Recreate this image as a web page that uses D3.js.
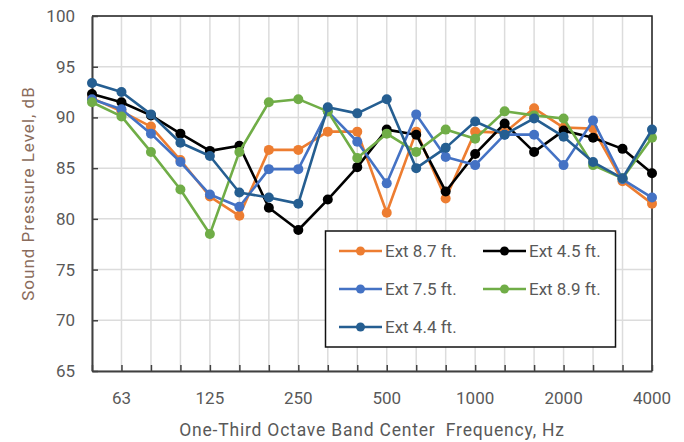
<!DOCTYPE html>
<html>
<head>
<meta charset="utf-8">
<script src="https://cdn.jsdelivr.net/npm/d3@7"></script>
<style>
	body { margin: 0; background: #fff; }
	svg text { font-family: Roboto, "Open Sans", sans-serif; }
</style>
</head>
<body>
<svg id="chart" width="684" height="442"></svg>
<script>
	"use strict";

	/***** Data *****/
	// One-third octave band centre frequencies, Hz
	var bands = [50, 63, 80, 100, 125, 160, 200, 250, 315, 400, 500, 630, 800, 1000, 1250, 1600, 2000, 2500, 3150, 4000];
	var bandLabels = [63, 125, 250, 500, 1000, 2000, 4000];
	var yTicks = [65, 70, 75, 80, 85, 90, 95, 100];

	var ext87 = [91.9, 90.6, 89.1, 85.8, 82.2, 80.3, 86.8, 86.8, 88.6, 88.6, 80.6, 88.6, 82.0, 88.6, 88.5, 90.9, 89.0, 88.9, 83.7, 81.5];
	var ext45 = [92.3, 91.5, 90.2, 88.4, 86.7, 87.2, 81.1, 78.9, 81.9, 85.1, 88.8, 88.3, 82.7, 86.4, 89.4, 86.6, 88.7, 88.0, 86.9, 84.5];
	var ext75 = [91.8, 90.8, 88.4, 85.6, 82.4, 81.2, 84.9, 84.9, 90.6, 87.6, 83.5, 90.3, 86.1, 85.3, 88.3, 88.3, 85.3, 89.7, 83.9, 82.1];
	var ext89 = [91.5, 90.1, 86.6, 82.9, 78.5, 86.6, 91.5, 91.8, 90.6, 86.0, 88.4, 86.6, 88.8, 87.9, 90.6, 90.2, 89.9, 85.3, 84.0, 88.0];
	var ext44 = [93.4, 92.5, 90.3, 87.5, 86.2, 82.6, 82.1, 81.5, 91.0, 90.4, 91.8, 85.0, 87.0, 89.6, 88.3, 89.9, 88.1, 85.6, 84.0, 88.8];

	var seriesNames = ["Ext 8.7 ft.", "Ext 4.5 ft.", "Ext 7.5 ft.", "Ext 8.9 ft.", "Ext 4.4 ft."];
	var seriesValues = [ext87, ext45, ext75, ext89, ext44];
	var seriesColors = ["#ed7d31", "#000000", "#4472c4", "#70ad47", "#255e91"];

	/***** Layout *****/
	const plotLeft = 92, plotRight = 652, plotTop = 16, plotBottom = 371;
	const textColor = "#595959";

	var svg = d3.select("#chart");

	var x = d3.scalePoint().domain(bands).range([plotLeft, plotRight]);
	var y = d3.scaleLinear().domain([65, 100]).range([plotBottom, plotTop]);

	// Grid
	var grid = svg.append("g");
	grid.selectAll("line.v")
		.data(bands)
		.enter().append("line")
		.attr("class", "v")
		.attr("x1", d => x(d)).attr("x2", d => x(d))
		.attr("y1", plotTop).attr("y2", plotBottom)
		.attr("stroke", "#dcdcdc").attr("stroke-width", 1.5);
	grid.selectAll("line.h")
		.data(yTicks)
		.enter().append("line")
		.attr("class", "h")
		.attr("x1", plotLeft).attr("x2", plotRight)
		.attr("y1", d => y(d)).attr("y2", d => y(d))
		.attr("stroke", "#dcdcdc").attr("stroke-width", 1.5);

	// Plot frame (top and right)
	svg.append("path")
		.attr("d", "M" + plotLeft + "," + plotTop + "H" + plotRight + "V" + plotBottom)
		.attr("fill", "none").attr("stroke", "#222").attr("stroke-width", 1.5);

	// Axes (ticks drawn inward like the original)
	var xAxis = svg.append("g")
		.attr("transform", "translate(0," + plotBottom + ")")
		.call(d3.axisBottom(x).tickSizeInner(-6).tickSizeOuter(0).tickFormat(""));
	var yAxis = svg.append("g")
		.attr("transform", "translate(" + plotLeft + ",0)")
		.call(d3.axisLeft(y).tickValues(yTicks).tickSizeInner(-6).tickSizeOuter(0).tickFormat(""));
	[xAxis, yAxis].forEach(function (a) {
		a.select(".domain").attr("stroke", "#404040").attr("stroke-width", 2);
		a.selectAll(".tick line").attr("stroke", "#404040").attr("stroke-width", 1.5);
	});

	// Tick labels
	svg.append("g").selectAll("text")
		.data(yTicks)
		.enter().append("text")
		.attr("x", plotLeft - 17)
		.attr("y", d => y(d))
		.attr("dy", "0.35em")
		.attr("text-anchor", "end")
		.attr("font-size", 17)
		.attr("fill", textColor)
		.text(d => d);

	svg.append("g").selectAll("text")
		.data(bandLabels)
		.enter().append("text")
		.attr("x", d => x(d))
		.attr("y", 404)
		.attr("text-anchor", "middle")
		.attr("font-size", 17)
		.attr("fill", textColor)
		.text(d => d);

	// Axis titles
	svg.append("text")
		.attr("x", (plotLeft + plotRight) / 2)
		.attr("y", 436)
		.attr("text-anchor", "middle")
		.attr("font-size", 17.5)
		.attr("letter-spacing", 0.8)
		.attr("fill", textColor)
		.attr("xml:space", "preserve")
		.text("One-Third Octave Band Center  Frequency, Hz");

	svg.append("text")
		.attr("transform", "translate(34," + ((plotTop + plotBottom) / 2) + ") rotate(-90)")
		.attr("text-anchor", "middle")
		.attr("font-size", 17)
		.attr("letter-spacing", 1)
		.attr("fill", "#8a6c5c")
		.text("Sound Pressure Level, dB");

	/***** Series *****/
	var line = d3.line()
		.x((d, i) => x(bands[i]))
		.y(d => y(d));

	seriesValues.forEach(function (vals, s) {
		var g = svg.append("g");
		g.append("path")
			.datum(vals)
			.attr("d", line)
			.attr("fill", "none")
			.attr("stroke", seriesColors[s])
			.attr("stroke-width", 2.6)
			.attr("stroke-linejoin", "round");
		g.selectAll("circle")
			.data(vals)
			.enter().append("circle")
			.attr("cx", (d, i) => x(bands[i]))
			.attr("cy", d => y(d))
			.attr("r", 5)
			.attr("fill", seriesColors[s]);
	});

	/***** Legend *****/
	var legend = svg.append("g");
	legend.append("rect")
		.attr("x", 325.5).attr("y", 231)
		.attr("width", 290).attr("height", 116)
		.attr("fill", "#fff")
		.attr("stroke", "#111").attr("stroke-width", 1.5);

	seriesNames.forEach(function (name, s) {
		var col = s % 2, row = Math.floor(s / 2);
		var lx = col === 0 ? 339 : 483;
		var ly = 251 + row * 38;
		var item = legend.append("g").attr("transform", "translate(" + lx + "," + ly + ")");
		item.append("line")
			.attr("x1", 0).attr("x2", 43)
			.attr("stroke", seriesColors[s]).attr("stroke-width", 2.6);
		item.append("circle")
			.attr("cx", 21.5).attr("r", 4.5)
			.attr("fill", seriesColors[s]);
		item.append("text")
			.attr("x", 46)
			.attr("dy", "0.35em")
			.attr("font-size", 17)
			.attr("fill", textColor)
			.text(name);
	});
</script>
</body>
</html>
